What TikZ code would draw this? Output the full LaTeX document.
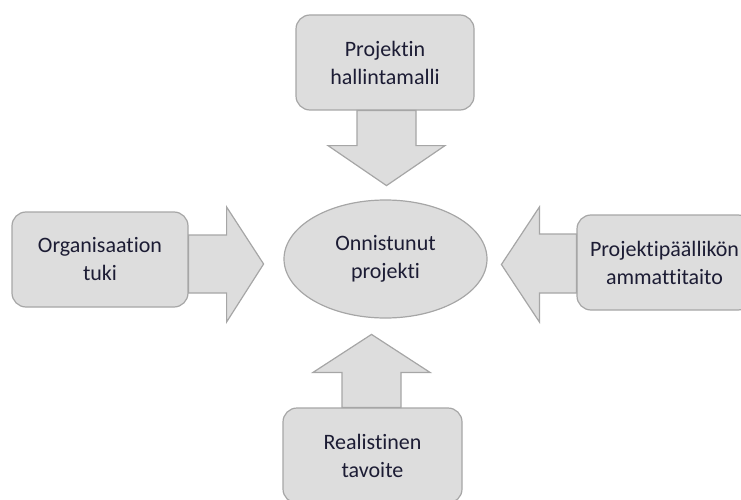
\documentclass[tikz,border=0pt]{standalone}
\usepackage{fontspec}
\setmainfont{Carlito}[Ligatures={NoCommon}]
\usetikzlibrary{shapes.geometric}
\definecolor{boxfill}{RGB}{221,221,221}
\definecolor{boxline}{RGB}{166,166,166}
\definecolor{txtcol}{RGB}{28,28,52}
\tikzset{every picture/.style={x=1pt,y=-1pt}}
\tikzset{box/.style={rectangle,rounded corners=14pt,draw=boxline,fill=boxfill,line width=1.2pt,minimum height=95pt,align=center,text=txtcol,font=\fontsize{22}{28}\selectfont}}
\tikzset{goal/.style={ellipse,draw=boxline,fill=boxfill,line width=1.2pt,minimum width=203pt,minimum height=118pt,inner sep=0pt,align=center,text=txtcol,font=\fontsize{22}{28}\selectfont}}
\tikzset{blk/.style={draw=boxline,fill=boxfill,line width=1.2pt,line join=miter}}

\begin{document}
\begin{tikzpicture}
\useasboundingbox (0,0) rectangle (741,500);
\node [goal] (goal) at (385.5,259) {Onnistunut\\projekti};
\node [box,minimum width=178pt] (malli) at (385,62.5) {Projektin\\hallintamalli};
\node [box,minimum width=176pt] (tuki) at (100,259.5) {Organisaation\\tuki};
\node [box,minimum width=175pt] (taito) at (664.5,262.5) {Projektipäällikön\\ammattitaito};
\node [box,minimum width=179pt] (tavoite) at (372.5,455.5) {Realistinen\\tavoite};
% block arrows towards the goal
\draw [blk] (malli.south -| 357,0) -- ++(0,35) -- ++(-29,0) -- ++(58.5,40) -- ++(58.5,-40) -- ++(-29,0) -- ++(0,-35) -- cycle;
\draw [blk] (tuki.east |- 0,235) -- ++(38,0) -- ++(0,-28) -- ++(37,57) -- ++(-37,58) -- ++(0,-29) -- ++(-38,0) -- cycle;
\draw [blk] (taito.west |- 0,234) -- ++(-37,0) -- ++(0,-27) -- ++(-38,57.5) -- ++(38,57.5) -- ++(0,-29) -- ++(37,0) -- cycle;
\draw [blk] (tavoite.north -| 342,0) -- ++(0,-35) -- ++(-29,0) -- ++(58.5,-38) -- ++(58.5,38) -- ++(-29,0) -- ++(0,35) -- cycle;
\end{tikzpicture}
\end{document}
